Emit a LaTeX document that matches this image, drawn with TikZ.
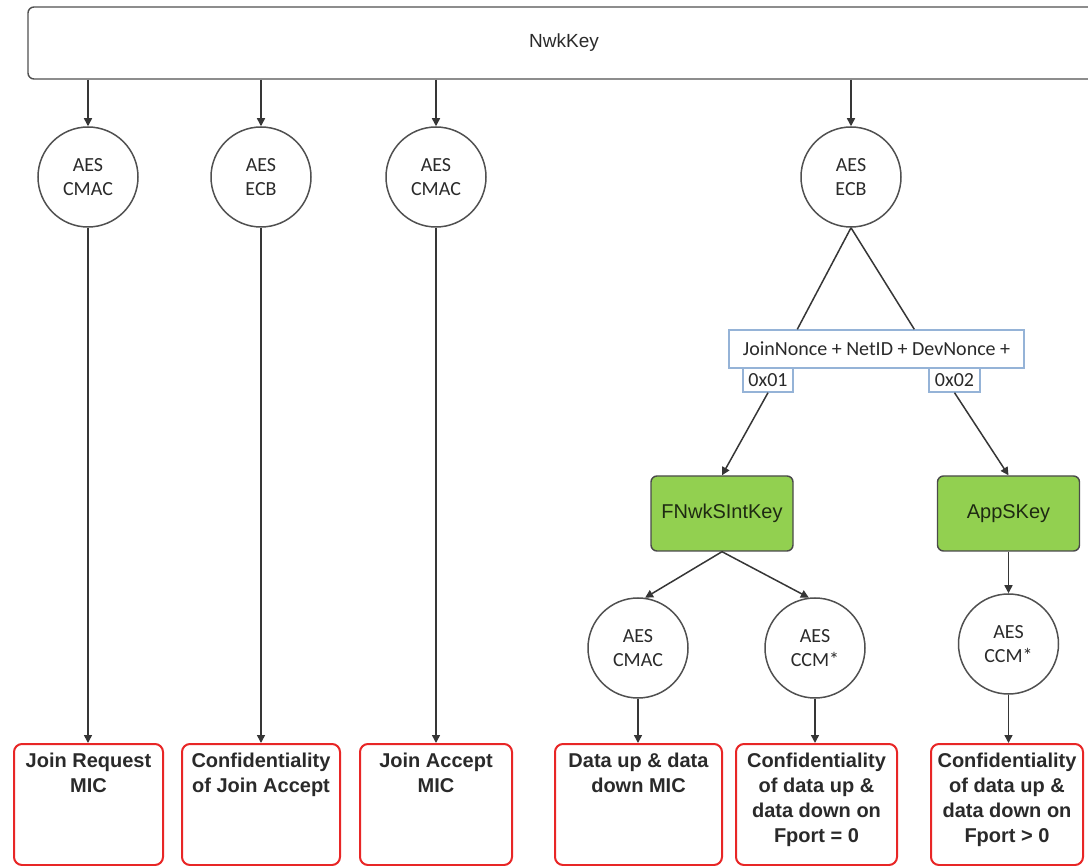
\documentclass[tikz,border=0pt]{standalone}
\usepackage{fontspec}
\setmainfont{Liberation Sans}
\newfontfamily\carlito{Carlito}
\usetikzlibrary{arrows.meta}
\definecolor{linegray}{HTML}{363636}
\definecolor{circgray}{HTML}{505050}
\definecolor{textgray}{HTML}{2A2A2A}
\definecolor{keygreen}{HTML}{92D050}
\definecolor{keyedge}{HTML}{4A4A4A}
\definecolor{keytext}{HTML}{1E2A12}
\definecolor{usered}{HTML}{E82626}
\definecolor{nonceblue}{HTML}{95B3D7}
\begin{document}
\begin{tikzpicture}[x=1pt,y=-1pt,
  conn/.style={draw=linegray, line width=1.5pt},
  arr/.style={conn, -{Triangle[length=8pt,width=8pt]}},
  aes/.style={circle, draw=circgray, line width=1.5pt, minimum size=100pt,
    inner sep=0pt, align=center, text=textgray,
    font=\carlito\fontsize{20}{24}\selectfont},
  keybox/.style={rectangle, rounded corners=6pt, draw=keyedge, line width=1.4pt,
    fill=keygreen, minimum width=142pt, minimum height=75pt, text=keytext,
    font=\fontsize{20}{24}\selectfont},
  usebox/.style={rectangle, rounded corners=8pt, draw=usered, line width=2pt,
    minimum height=121pt, anchor=north},
  usetext/.style={anchor=north, inner sep=0pt, align=center, text=textgray,
    font=\bfseries\fontsize{20}{25}\selectfont},
  noncebox/.style={rectangle, draw=nonceblue, line width=1.4pt, fill=white,
    inner sep=0pt, text=textgray, font=\carlito\fontsize{20}{24}\selectfont}
]
\useasboundingbox (0,0) rectangle (1088,866);

% master key bar
\node[rectangle, rounded corners=6pt, draw=circgray, line width=1.4pt,
  minimum width=1072pt, minimum height=72pt, text=textgray,
  font=\fontsize{19}{23}\selectfont] (nk) at (564,43) {NwkKey};

% first row of AES blocks
\node[aes] (c1) at (88,177) {AES\\CMAC};
\node[aes] (c2) at (261,177) {AES\\ECB};
\node[aes] (c3) at (436,177) {AES\\CMAC};
\node[aes] (c4) at (851,177) {AES\\ECB};

% derivation input
\node[noncebox, minimum width=295pt, minimum height=38pt] (jn) at (876.5,349)
  {JoinNonce + NetID + DevNonce +};
\node[noncebox, minimum width=50pt, minimum height=24pt] (o1) at (768,380) {0x01};
\node[noncebox, minimum width=51pt, minimum height=24pt] (o2) at (954.5,380) {0x02};

% session keys
\node[keybox] (fk) at (722,513.5) {FNwkSIntKey};
\node[keybox] (ak) at (1008.5,513.5) {AppSKey};

% second row of AES blocks
\node[aes] (c5) at (638,648) {AES\\CMAC};
\node[aes] (c6) at (815,648) {AES\\CCM*};
\node[aes] (c7) at (1008.5,644) {AES\\CCM*};

% purposes
\node[usebox, minimum width=149pt] (r1) at (88.5,743) {};
\node[usebox, minimum width=158pt] (r2) at (261,743) {};
\node[usebox, minimum width=152pt] (r3) at (436,743) {};
\node[usebox, minimum width=167pt] (r4) at (638.5,743) {};
\node[usebox, minimum width=161pt] (r5) at (816.5,743) {};
\node[usebox, minimum width=152pt] (r6) at (1007,743) {};

\node[usetext] (t1) at (88.5,752.5) {Join Request\\MIC};
\node[usetext] (t2) at (261,752.5) {Confidentiality\\of Join Accept};
\node[usetext] (t3) at (436,752.5) {Join Accept\\MIC};
\node[usetext] (t4) at (638.5,752.5) {Data up \& data\\down MIC};
\node[usetext] (t5) at (816.5,752.5) {Confidentiality\\of data up \&\\data down on\\Fport = 0};
\node[usetext] (t6) at (1007,752.5) {Confidentiality\\of data up \&\\data down on\\Fport > 0};

% connectors from the master key
\draw[arr] (nk.south -| c1) -- (c1);
\draw[arr] (nk.south -| c2) -- (c2);
\draw[arr] (nk.south -| c3) -- (c3);
\draw[arr] (nk.south -| c4) -- (c4);

% first row to purposes
\draw[arr] (c1.south) -- (c1.south |- r1.north);
\draw[arr] (c2.south) -- (c2.south |- r2.north);
\draw[arr] (c3.south) -- (c3.south |- r3.north);

% key derivation
\draw[conn] (c4.south) -- ([xshift=69pt]jn.north west);
\draw[conn] (c4.south) -- ([xshift=186pt]jn.north west);
\draw[arr] (o1.south) -- (fk.north);
\draw[arr] (o2.south) -- (ak.north);

% session keys to AES blocks
\draw[arr] (fk.south) -- (c5.82);
\draw[arr] (fk.south) -- (c6.97);
\draw[arr] (ak.south) -- (c7.north);

% second row to purposes
\draw[arr] (c5.south) -- (c5.south |- r4.north);
\draw[arr] (c6.south) -- (c6.south |- r5.north);
\draw[arr] (c7.south) -- (c7.south |- r6.north);
\end{tikzpicture}
\end{document}
